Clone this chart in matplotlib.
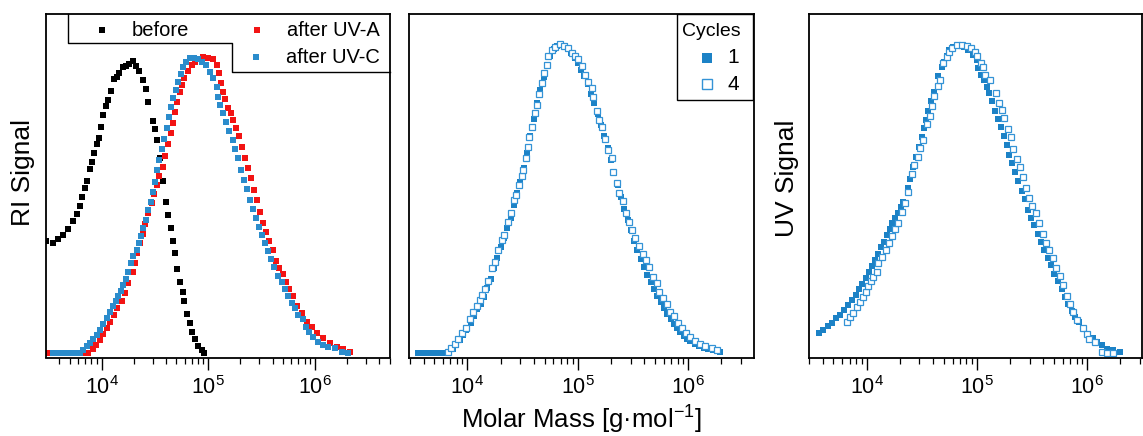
import numpy as np
import matplotlib
matplotlib.use("Agg")
import matplotlib.pyplot as plt
from matplotlib.ticker import LogLocator, NullFormatter, FixedLocator, FixedFormatter

plt.rcParams['font.family'] = ['Liberation Sans', 'DejaVu Sans']
plt.rcParams['mathtext.fontset'] = 'custom'
plt.rcParams['mathtext.rm'] = 'Liberation Sans'
plt.rcParams['mathtext.it'] = 'Liberation Sans'

# ---------------- data (log10 molar mass, normalised signal) ----------------
# Panel 1: RI signal
before_logM = [3.478, 3.546, 3.593, 3.640, 3.687, 3.728, 3.766, 3.797, 3.818, 3.843, 3.865, 3.890,
               3.912, 3.931, 3.953, 3.972, 3.993, 4.015, 4.040, 4.062, 4.084, 4.115, 4.141, 4.165,
               4.197, 4.228, 4.259, 4.296, 4.321, 4.352, 4.384, 4.412, 4.437, 4.478, 4.500, 4.521,
               4.546, 4.572, 4.603, 4.624, 4.649, 4.671, 4.687, 4.709, 4.734, 4.759, 4.774, 4.802,
               4.828, 4.849, 4.874, 4.905, 4.937, 4.962]
before_sig = [0.381, 0.374, 0.385, 0.400, 0.420, 0.448, 0.471, 0.498, 0.528, 0.558, 0.583, 0.623,
              0.648, 0.679, 0.707, 0.728, 0.765, 0.807, 0.837, 0.858, 0.889, 0.928, 0.937, 0.950,
              0.968, 0.973, 0.980, 0.990, 0.973, 0.957, 0.925, 0.894, 0.852, 0.787, 0.758, 0.722,
              0.660, 0.584, 0.513, 0.468, 0.425, 0.380, 0.338, 0.284, 0.242, 0.208, 0.177, 0.132,
              0.103, 0.072, 0.046, 0.024, 0.010, 0.000]

uva_logM = [3.48, 3.51, 3.54, 3.57, 3.60, 3.63, 3.66, 3.69, 3.72, 3.75, 3.78, 3.81, 3.84,
            3.874, 3.916, 3.947, 3.984, 4.015, 4.047, 4.078, 4.115, 4.146, 4.187, 4.218, 4.249,
            4.291, 4.312, 4.334, 4.359, 4.390, 4.406, 4.437, 4.474, 4.493, 4.515, 4.540, 4.572,
            4.593, 4.619, 4.647, 4.665, 4.687, 4.703, 4.734, 4.750, 4.774, 4.812, 4.843, 4.874,
            4.915, 4.952, 4.999, 5.040, 5.078, 5.102, 5.118, 5.140, 5.156, 5.187, 5.209, 5.233,
            5.259, 5.290, 5.312, 5.343, 5.368, 5.396, 5.427, 5.453, 5.484, 5.515, 5.540, 5.573,
            5.603, 5.631, 5.664, 5.696, 5.727, 5.758, 5.790, 5.828, 5.874, 5.921, 5.968, 6.015,
            6.077, 6.140, 6.202, 6.264, 6.327]
uva_sig = [0.0, 0.0, 0.0, 0.0, 0.0, 0.0, 0.0, 0.0, 0.0, 0.0, 0.0, 0.0, 0.0,
           0.000, 0.013, 0.027, 0.044, 0.063, 0.084, 0.106, 0.129, 0.152, 0.177, 0.204, 0.236,
           0.276, 0.306, 0.338, 0.372, 0.403, 0.437, 0.476, 0.507, 0.539, 0.569, 0.600, 0.629,
           0.668, 0.707, 0.745, 0.781, 0.818, 0.852, 0.886, 0.908, 0.931, 0.957, 0.976, 0.987,
           0.996, 1.002, 0.999, 0.996, 0.976, 0.948, 0.914, 0.886, 0.860, 0.829, 0.813, 0.790,
           0.762, 0.736, 0.697, 0.660, 0.626, 0.592, 0.553, 0.519, 0.479, 0.440, 0.411, 0.380,
           0.349, 0.313, 0.287, 0.268, 0.242, 0.216, 0.193, 0.159, 0.135, 0.106, 0.089, 0.069,
           0.050, 0.033, 0.021, 0.013, 0.004]

uvc_logM = [3.544, 3.572, 3.600, 3.628, 3.656, 3.685, 3.713, 3.741, 3.769, 3.797,
            3.828, 3.859, 3.890, 3.921, 3.953, 3.984, 4.015, 4.047, 4.078, 4.109, 4.134, 4.156,
            4.178, 4.202, 4.228, 4.249, 4.272, 4.296, 4.328, 4.350, 4.366, 4.390, 4.415, 4.437,
            4.459, 4.478, 4.500, 4.521, 4.540, 4.565, 4.587, 4.609, 4.631, 4.649, 4.671, 4.696,
            4.718, 4.740, 4.759, 4.790, 4.828, 4.865, 4.905, 4.937, 4.978, 5.015, 5.046, 5.078,
            5.093, 5.109, 5.134, 5.165, 5.196, 5.228, 5.252, 5.280, 5.303, 5.334, 5.359, 5.390,
            5.415, 5.446, 5.471, 5.502, 5.530, 5.561, 5.584, 5.618, 5.655, 5.687, 5.718, 5.743,
            5.781, 5.812, 5.843, 5.884, 5.915, 5.946, 5.983, 6.030, 6.071, 6.124, 6.187, 6.249,
            6.311]
uvc_sig = [0.0, 0.0, 0.0, 0.0, 0.0, 0.0, 0.0, 0.0, 0.0, 0.0,
           0.010, 0.024, 0.035, 0.046, 0.061, 0.078, 0.097, 0.118, 0.140, 0.159, 0.177, 0.193,
           0.211, 0.231, 0.250, 0.276, 0.304, 0.329, 0.349, 0.372, 0.397, 0.423, 0.451, 0.485,
           0.513, 0.547, 0.581, 0.620, 0.654, 0.691, 0.724, 0.762, 0.801, 0.835, 0.865, 0.892,
           0.920, 0.946, 0.971, 0.987, 0.999, 0.999, 0.996, 0.987, 0.976, 0.954, 0.931, 0.901,
           0.869, 0.841, 0.813, 0.784, 0.754, 0.722, 0.691, 0.660, 0.620, 0.586, 0.555, 0.519,
           0.487, 0.457, 0.428, 0.400, 0.374, 0.347, 0.318, 0.291, 0.261, 0.242, 0.216, 0.194,
           0.168, 0.152, 0.129, 0.114, 0.089, 0.072, 0.053, 0.038, 0.027, 0.021, 0.016, 0.004,
           0.001]

# Panel 2: RI signal, cycles 1 (filled) and 4 (open)
ri1_logM = [3.55, 3.57, 3.59, 3.61, 3.63, 3.65, 3.67, 3.69, 3.71, 3.73, 3.75, 3.77, 3.79,
            3.83, 3.87, 3.90, 3.93, 3.96, 3.99, 4.03, 4.06, 4.09, 4.12, 4.15, 4.18, 4.21, 4.24,
            4.27, 4.30, 4.33, 4.36, 4.39, 4.42, 4.45, 4.48, 4.51, 4.54, 4.57, 4.60, 4.63, 4.66,
            4.69, 4.72, 4.75, 4.78, 4.81, 4.85, 4.88, 4.91, 4.94, 4.97, 5.00, 5.03, 5.06, 5.09,
            5.12, 5.15, 5.18, 5.21, 5.24, 5.27, 5.30, 5.33, 5.36, 5.39, 5.42, 5.45, 5.48, 5.51,
            5.54, 5.57, 5.60, 5.63, 5.66, 5.69, 5.72, 5.75, 5.78, 5.81, 5.84, 5.87, 5.90, 5.93,
            5.96, 5.99, 6.02, 6.06, 6.10, 6.14, 6.18, 6.22, 6.26, 6.29]
ri1_sig = [0.0, 0.0, 0.0, 0.0, 0.0, 0.0, 0.0, 0.0, 0.0, 0.0, 0.0, 0.0, 0.0,
           0.003, 0.014, 0.028, 0.042, 0.058, 0.075, 0.098, 0.122, 0.142, 0.160, 0.183, 0.210,
           0.240, 0.275, 0.310, 0.343, 0.372, 0.405, 0.440, 0.482, 0.520, 0.556, 0.600, 0.650,
           0.705, 0.760, 0.810, 0.855, 0.897, 0.935, 0.965, 0.985, 0.996, 1.000, 0.997, 0.985,
           0.972, 0.958, 0.942, 0.920, 0.898, 0.872, 0.842, 0.810, 0.775, 0.740, 0.703, 0.665,
           0.625, 0.585, 0.545, 0.505, 0.468, 0.432, 0.398, 0.365, 0.335, 0.306, 0.280, 0.255,
           0.230, 0.207, 0.186, 0.166, 0.146, 0.128, 0.110, 0.095, 0.081, 0.068, 0.057, 0.047,
           0.038, 0.030, 0.023, 0.017, 0.012, 0.009, 0.006, 0.004]

ri4_logM = [3.819, 3.855, 3.885, 3.915, 3.946, 3.985, 4.021, 4.051, 4.082, 4.112, 4.132, 4.157,
            4.187, 4.223, 4.248, 4.277, 4.314, 4.332, 4.368, 4.393, 4.422, 4.444, 4.465, 4.490,
            4.504, 4.526, 4.544, 4.558, 4.580, 4.610, 4.626, 4.646, 4.671, 4.694, 4.716, 4.731,
            4.762, 4.791, 4.837, 4.876, 4.912, 4.943, 4.973, 5.003, 5.034, 5.063, 5.093, 5.124,
            5.139, 5.170, 5.193, 5.215, 5.245, 5.275, 5.306, 5.320, 5.351, 5.374, 5.405, 5.435,
            5.465, 5.487, 5.517, 5.556, 5.587, 5.617, 5.646, 5.677, 5.714, 5.737, 5.773, 5.804,
            5.834, 5.873, 5.909, 5.940, 5.979, 6.015, 6.061, 6.106, 6.151, 6.212, 6.260]
ri4_sig = [0.005, 0.016, 0.030, 0.045, 0.065, 0.083, 0.110, 0.135, 0.153, 0.171, 0.189, 0.208,
           0.235, 0.276, 0.297, 0.335, 0.367, 0.384, 0.424, 0.456, 0.497, 0.513, 0.546, 0.575,
           0.595, 0.634, 0.670, 0.701, 0.735, 0.778, 0.805, 0.841, 0.876, 0.908, 0.935, 0.964,
           0.984, 0.994, 1.003, 0.997, 0.989, 0.975, 0.964, 0.954, 0.930, 0.903, 0.881, 0.860,
           0.832, 0.787, 0.757, 0.735, 0.694, 0.659, 0.632, 0.589, 0.551, 0.521, 0.492, 0.456,
           0.427, 0.400, 0.373, 0.346, 0.322, 0.303, 0.279, 0.248, 0.227, 0.200, 0.178, 0.160,
           0.135, 0.119, 0.097, 0.081, 0.065, 0.054, 0.038, 0.030, 0.024, 0.016, 0.011]

# Panel 3: UV signal, cycles 1 (filled) and 4 (open)
uv1_logM = [3.568, 3.607, 3.646, 3.683, 3.719, 3.758, 3.797, 3.833, 3.869, 3.900, 3.930, 3.960,
            3.991, 4.021, 4.045, 4.075, 4.100, 4.130, 4.160, 4.181, 4.211, 4.232, 4.257, 4.286,
            4.311, 4.332, 4.372, 4.393, 4.422, 4.447, 4.477, 4.499, 4.519, 4.538, 4.558, 4.583,
            4.610, 4.644, 4.680, 4.704, 4.725, 4.746, 4.785, 4.830, 4.885, 4.921, 4.966, 4.997,
            5.012, 5.034, 5.063, 5.088, 5.112, 5.139, 5.163, 5.193, 5.218, 5.245, 5.269, 5.293,
            5.320, 5.347, 5.374, 5.405, 5.435, 5.465, 5.490, 5.519, 5.550, 5.578, 5.607, 5.641,
            5.671, 5.701, 5.737, 5.768, 5.798, 5.828, 5.859, 5.888, 5.927, 5.964, 6.009, 6.049,
            6.091, 6.131, 6.176, 6.236, 6.296]
uv1_sig = [0.067, 0.078, 0.091, 0.101, 0.116, 0.126, 0.142, 0.159, 0.175, 0.191, 0.209, 0.227,
           0.245, 0.266, 0.285, 0.304, 0.324, 0.345, 0.363, 0.385, 0.404, 0.423, 0.439, 0.457,
           0.477, 0.493, 0.536, 0.565, 0.606, 0.639, 0.669, 0.701, 0.730, 0.757, 0.787, 0.817,
           0.849, 0.900, 0.930, 0.946, 0.964, 0.982, 0.994, 1.000, 0.994, 0.984, 0.968, 0.951,
           0.925, 0.903, 0.887, 0.863, 0.844, 0.817, 0.786, 0.760, 0.734, 0.706, 0.675, 0.644,
           0.617, 0.590, 0.561, 0.528, 0.501, 0.466, 0.441, 0.417, 0.388, 0.363, 0.337, 0.312,
           0.287, 0.259, 0.237, 0.209, 0.185, 0.162, 0.140, 0.121, 0.103, 0.083, 0.061, 0.051,
           0.040, 0.029, 0.018, 0.013, 0.007]

uv4_logM = [3.819, 3.849, 3.879, 3.909, 3.939, 3.969, 3.991, 4.015, 4.039, 4.060, 4.091, 4.105,
            4.141, 4.172, 4.202, 4.232, 4.257, 4.286, 4.317, 4.347, 4.377, 4.413, 4.432, 4.462,
            4.486, 4.513, 4.544, 4.574, 4.595, 4.613, 4.644, 4.665, 4.694, 4.725, 4.746, 4.771,
            4.816, 4.861, 4.907, 4.946, 4.982, 5.003, 5.034, 5.052, 5.073, 5.118, 5.172, 5.199,
            5.224, 5.248, 5.278, 5.308, 5.329, 5.360, 5.390, 5.420, 5.441, 5.471, 5.501, 5.535,
            5.565, 5.596, 5.626, 5.650, 5.686, 5.716, 5.752, 5.777, 5.813, 5.843, 5.873, 5.909,
            5.958, 5.995, 6.018, 6.070, 6.131, 6.176, 6.236]
uv4_sig = [0.105, 0.119, 0.134, 0.151, 0.169, 0.185, 0.202, 0.220, 0.237, 0.250, 0.266, 0.294,
           0.315, 0.337, 0.358, 0.382, 0.404, 0.423, 0.461, 0.488, 0.525, 0.583, 0.612, 0.639,
           0.666, 0.693, 0.744, 0.770, 0.803, 0.835, 0.867, 0.887, 0.941, 0.962, 0.978, 0.989,
           1.000, 1.000, 0.997, 0.989, 0.978, 0.964, 0.943, 0.930, 0.903, 0.887, 0.846, 0.813,
           0.790, 0.763, 0.729, 0.701, 0.663, 0.631, 0.604, 0.574, 0.536, 0.506, 0.480, 0.455,
           0.425, 0.388, 0.358, 0.337, 0.312, 0.279, 0.252, 0.223, 0.188, 0.162, 0.137, 0.110,
           0.083, 0.065, 0.048, 0.040, 0.007, 0.004, 0.004]

legend1_labels = ["before", "after UV-A", "after UV-C"]
legend2_title = "Cycles"
legend2_labels = ["1", "4"]
xlabel = "Molar Mass [g\u00b7mol$^{\\mathregular{-1}}$]"
ylabels = ["RI Signal", "UV Signal"]
xtick_vals = [1e4, 1e5, 1e6]
xtick_labels = ["$\\mathregular{10^{4}}$", "$\\mathregular{10^{5}}$", "$\\mathregular{10^{6}}$"]

# ---------------- styling ----------------
C_BLACK = "#000000"
C_RED = "#f21414"
C_BLUE1 = "#2b8ccc"
C_FILL = "#1c82c6"
C_OPEN = "#3493d6"

W, H = 1143, 436
fig = plt.figure(figsize=(W / 100, H / 100), dpi=100)

def px_axes(x0, x1, y_top, y_bot):
    return fig.add_axes([x0 / W, 1 - y_bot / H, (x1 - x0) / W, (y_bot - y_top) / H])

ax1 = px_axes(46, 390, 14, 357.5)
ax2 = px_axes(409, 754, 14, 357.5)
ax3 = px_axes(809, 1142, 14, 357.5)

xlims = [(10**3.478, 10**6.703), (10**3.470, 10**6.596), (10**3.477, 10**6.496)]
ylims = [(-0.0153, 1.149), (-0.014, 1.100), (-0.011, 1.100)]

for ax, xl, yl in zip((ax1, ax2, ax3), xlims, ylims):
    ax.set_xscale('log')
    ax.set_xlim(*xl)
    ax.set_ylim(*yl)
    ax.set_yticks([])
    ax.xaxis.set_major_locator(FixedLocator(xtick_vals))
    ax.xaxis.set_major_formatter(FixedFormatter(xtick_labels))
    ax.xaxis.set_minor_locator(LogLocator(base=10, subs=np.arange(2, 10), numticks=20))
    ax.xaxis.set_minor_formatter(NullFormatter())
    ax.tick_params(axis='x', which='major', direction='out', length=8.5, width=1.0,
                   labelsize=15.5, pad=5, color='black')
    ax.tick_params(axis='x', which='minor', direction='out', length=4.5, width=0.9, color='black')
    for sp in ax.spines.values():
        sp.set_linewidth(1.3)

ms = 4.0
# panel 1
ax1.plot(10**np.array(before_logM), before_sig, 's', color=C_BLACK, ms=ms, mew=0)
ax1.plot(10**np.array(uva_logM), uva_sig, 's', color=C_RED, ms=ms, mew=0)
ax1.plot(10**np.array(uvc_logM), uvc_sig, 's', color=C_BLUE1, ms=ms, mew=0)

# panel 2
ax2.plot(10**np.array(ri1_logM), ri1_sig, 's', color=C_FILL, ms=ms, mew=0)
ax2.plot(10**np.array(ri4_logM), ri4_sig, 's', mfc='white', mec=C_OPEN, ms=4.4, mew=0.9)

# panel 3
ax3.plot(10**np.array(uv1_logM), uv1_sig, 's', color=C_FILL, ms=ms, mew=0)
ax3.plot(10**np.array(uv4_logM), uv4_sig, 's', mfc='white', mec=C_OPEN, ms=4.4, mew=0.9)

# panel 1 legend (stepped frame)
tr = ax1.transAxes
ax1.plot([0.0648, 0.0648, 0.5416, 0.5416, 1.0], [1.0, 0.9163, 0.9163, 0.8318, 0.8318],
         color='black', lw=1.0, transform=tr, clip_on=False)
ax1.fill([0.0648, 0.0648, 0.5416, 0.5416, 1.0, 1.0], [1.0, 0.9163, 0.9163, 0.8318, 0.8318, 1.0],
         color='white', transform=tr, zorder=1.5)
leg1 = [(0.162, 0.953, C_BLACK, 0.2491), (0.6125, 0.953, C_RED, 0.6997), (0.6096, 0.8746, C_BLUE1, 0.6968)]
for (mx, my, c, tx), lab in zip(leg1, legend1_labels):
    ax1.plot([mx], [my], 's', color=c, ms=ms, mew=0, transform=tr, zorder=3)
    ax1.text(tx, my, lab, transform=tr, fontsize=14.5, va='center', ha='left', zorder=3)

# panel 2 legend
tr2 = ax2.transAxes
ax2.fill([0.776, 0.996, 0.996, 0.776], [0.7496, 0.7496, 1.0, 1.0], facecolor='white',
         edgecolor='black', lw=1.0, transform=tr2, zorder=2)
ax2.text(0.790, 0.950, legend2_title, transform=tr2, fontsize=14, va='center', ha='left', zorder=3)
ax2.plot([0.863], [0.872], 's', color=C_FILL, ms=7, mew=0, transform=tr2, zorder=3)
ax2.plot([0.863], [0.796], 's', mfc='white', mec=C_OPEN, ms=6.5, mew=1.0, transform=tr2, zorder=3)
ax2.text(0.939, 0.872, legend2_labels[0], transform=tr2, fontsize=15, va='center', ha='center', zorder=3)
ax2.text(0.939, 0.796, legend2_labels[1], transform=tr2, fontsize=15, va='center', ha='center', zorder=3)

# axis labels
fig.text(23 / W, 1 - 172.5 / H, ylabels[0], rotation=90, fontsize=19, va='center', ha='center')
fig.text(787 / W, 1 - 178 / H, ylabels[1], rotation=90, fontsize=19, va='center', ha='center')
fig.text(581.7 / W, 1 - 420 / H, xlabel, fontsize=18.5, va='center', ha='center')

fig.savefig("out.png", dpi=100)
